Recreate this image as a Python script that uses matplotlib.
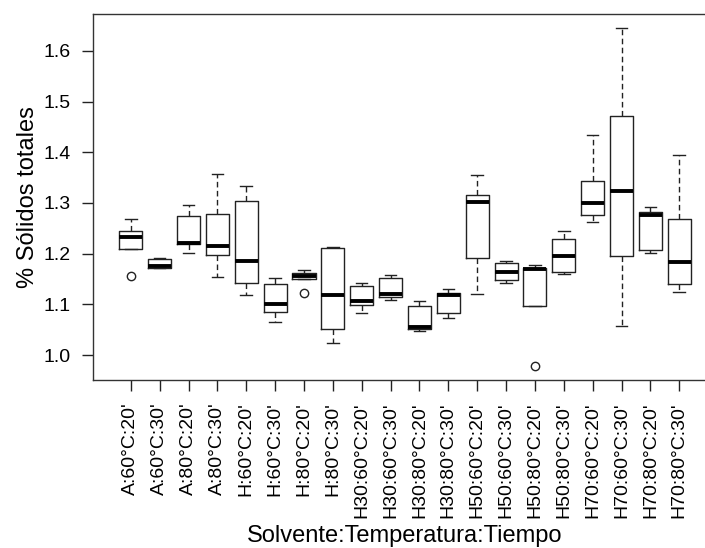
import matplotlib
matplotlib.use("Agg")
import matplotlib.pyplot as plt

plt.rcParams['font.family'] = ['Liberation Sans', 'DejaVu Sans']

grupos = ["A:60°C:20'", "A:60°C:30'", "A:80°C:20'", "A:80°C:30'",
          "H:60°C:20'", "H:60°C:30'", "H:80°C:20'", "H:80°C:30'",
          "H30:60°C:20'", "H30:60°C:30'", "H30:80°C:20'", "H30:80°C:30'",
          "H50:60°C:20'", "H50:60°C:30'", "H50:80°C:20'", "H50:80°C:30'",
          "H70:60°C:20'", "H70:60°C:30'", "H70:80°C:20'", "H70:80°C:30'"]

# cinco números
bigote_inf = [1.210, 1.172, 1.202, 1.153, 1.118, 1.066, 1.150, 1.024, 1.083, 1.109,
              1.047, 1.074, 1.121, 1.143, 1.097, 1.160, 1.262, 1.057, 1.202, 1.124]
q1 = [1.210, 1.172, 1.219, 1.197, 1.143, 1.085, 1.150, 1.051, 1.099, 1.115,
      1.051, 1.083, 1.192, 1.148, 1.097, 1.164, 1.276, 1.195, 1.207, 1.141]
mediana = [1.232, 1.176, 1.222, 1.216, 1.186, 1.101, 1.155, 1.118, 1.106, 1.120,
           1.055, 1.119, 1.302, 1.163, 1.170, 1.195, 1.299, 1.323, 1.277, 1.183]
q3 = [1.245, 1.190, 1.274, 1.279, 1.303, 1.141, 1.162, 1.212, 1.136, 1.151,
      1.097, 1.122, 1.316, 1.182, 1.172, 1.228, 1.343, 1.471, 1.282, 1.268]
bigote_sup = [1.268, 1.192, 1.296, 1.358, 1.333, 1.151, 1.168, 1.214, 1.143, 1.158,
              1.106, 1.130, 1.356, 1.186, 1.177, 1.245, 1.434, 1.645, 1.293, 1.395]
atipicos = [[1.155], [], [], [], [], [], [1.123], [], [], [],
            [], [], [], [], [0.978], [], [], [], [], []]

stats = []
for i in range(len(grupos)):
    stats.append(dict(whislo=bigote_inf[i], q1=q1[i], med=mediana[i], q3=q3[i],
                      whishi=bigote_sup[i], fliers=atipicos[i]))

fig = plt.figure(figsize=(7.05, 5.48), dpi=100)
ax = fig.add_axes([0.1323, 0.3066, 0.8844, 0.6679])

ax.bxp(stats, positions=range(1, len(grupos) + 1), widths=0.8,
       boxprops=dict(color='#222222', linewidth=1.0),
       whiskerprops=dict(color='#222222', linewidth=1.0, linestyle=(0, (4, 2.5))),
       capprops=dict(color='#222222', linewidth=1.0),
       capwidths=0.4,
       medianprops=dict(color='black', linewidth=2.8, solid_capstyle='butt'),
       flierprops=dict(marker='o', markerfacecolor='none', markeredgecolor='#222222',
                       markersize=6, markeredgewidth=1.0))

ax.set_xlim(-0.3, 21.3)
ax.set_ylim(0.9507, 1.673)
ax.set_yticks([1.0, 1.1, 1.2, 1.3, 1.4, 1.5, 1.6])
ax.set_yticklabels(['1.0', '1.1', '1.2', '1.3', '1.4', '1.5', '1.6'])
ax.set_xticks(range(1, len(grupos) + 1))
ax.set_xticklabels(grupos, rotation=90)

ax.tick_params(axis='both', length=8, width=1.0, color='#222222', labelsize=14, pad=8)
for s in ax.spines.values():
    s.set_linewidth(1.0)
    s.set_color('#333333')

ax.set_ylabel('% Sólidos totales', fontsize=17)
ax.yaxis.set_label_coords(-0.087, 0.5)
ax.set_xlabel('Solvente:Temperatura:Tiempo', fontsize=17)
ax.xaxis.set_label_coords(0.5, -0.395)
ax.xaxis.label.set_va('top')

fig.savefig('out.png', dpi=100)
